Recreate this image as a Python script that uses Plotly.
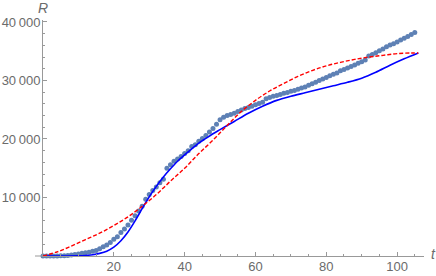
import plotly.graph_objects as go

# observed data (t, R)
obs_t = list(range(0, 106))
obs_R = [0, 0, 0, 10, 20, 40, 60, 100, 170, 250,
         350, 460, 550, 650, 800, 950, 1250, 1600, 1900, 2300,
         2850, 3300, 4000, 4600, 5300, 6100, 6900, 7700, 8500, 9700,
         10500, 11200, 11800, 12500, 13100, 15000, 15600, 16200, 16600, 17000,
         17500, 18000, 18700, 19000, 19600, 20100, 20600, 21200, 21800, 22500,
         23300, 23700, 24000, 24200, 24400, 24700, 24950, 25200, 25400, 25600,
         25850, 26050, 26300, 26900, 27100, 27300, 27450, 27600, 27800, 27950,
         28150, 28300, 28500, 28700, 28900, 29200, 29450, 29700, 30000, 30250,
         30500, 30800, 31050, 31300, 31650, 31900, 32150, 32400, 32650, 32950,
         33200, 33500, 34200, 34450, 34750, 35100, 35400, 35750, 36050, 36300,
         36600, 36900, 37200, 37500, 37850, 38200]

# model 1 (blue solid)
m1_t = [0, 5, 10, 12, 14, 16, 18, 20, 22, 24, 26, 28, 30, 32, 34, 36, 38, 40,
        42, 44, 46, 48, 50, 54, 58, 62, 66, 70, 74, 78, 82, 86, 90, 94, 98, 102, 106]
m1_R = [0, 0, 30, 90, 220, 450, 820, 1500, 2600, 4100, 6000, 8100, 10100, 11900,
        13500, 14900, 16200, 17300, 18300, 19300, 20100, 20900, 21600, 23000,
        24400, 25600, 26600, 27300, 27900, 28500, 29100, 29700, 30400, 31400,
        32600, 33700, 34700]

# model 2 (red dashed)
m2_t = [0, 4, 8, 12, 16, 20, 24, 28, 32, 36, 40, 44, 48, 52, 56, 60, 64, 68,
        72, 76, 80, 84, 88, 92, 96, 100, 104, 106]
m2_R = [0, 700, 1700, 2800, 3900, 5200, 6700, 8500, 10500, 12800, 15000, 17500,
        19800, 22300, 24700, 26600, 28200, 29500, 30700, 31700, 32500, 33100,
        33600, 34000, 34300, 34600, 34700, 34700]

x_ticks = [20, 40, 60, 80, 100]
x_labels = ["20", "40", "60", "80", "100"]
y_ticks = [10000, 20000, 30000, 40000]
y_labels = ["10\u2009000", "20\u2009000", "30\u2009000", "40\u2009000"]

axis_col = "#999999"
text_col = "#6b6b6b"
font = dict(family="Liberation Sans, Arial, sans-serif", size=13, color=text_col)

fig = go.Figure()
fig.add_trace(go.Scatter(x=obs_t, y=obs_R, mode="markers",
                         marker=dict(size=5, color="#5E81B5"),
                         cliponaxis=False, showlegend=False))
fig.add_trace(go.Scatter(x=m1_t, y=m1_R, mode="lines",
                         line=dict(color="#0000FF", width=1.6, shape="spline", smoothing=0.8),
                         cliponaxis=False, showlegend=False))
fig.add_trace(go.Scatter(x=m2_t, y=m2_R, mode="lines",
                         line=dict(color="#FF0000", width=1.4, dash="4px,2px", shape="spline"),
                         cliponaxis=False, showlegend=False))

fig.update_layout(
    width=436, height=276,
    margin=dict(l=43, r=12, t=20, b=20, autoexpand=False),
    plot_bgcolor="white", paper_bgcolor="white",
    font=font,
    xaxis=dict(range=[0, 107.6], showgrid=False, zeroline=False, automargin=False,
               showline=True, linecolor=axis_col, linewidth=1,
               ticks="inside", ticklen=4, tickcolor=axis_col,
               tickvals=x_ticks, ticktext=x_labels, ticklabelstandoff=-2,
               minor=dict(dtick=5, tick0=0, ticks="inside", ticklen=2, tickcolor=axis_col),
               tickfont=font),
    yaxis=dict(range=[0, 40340], showgrid=False, zeroline=False, automargin=False,
               showline=True, linecolor=axis_col, linewidth=1,
               ticks="inside", ticklen=4, tickcolor=axis_col,
               tickvals=y_ticks, ticktext=y_labels, ticklabelstandoff=-1,
               minor=dict(dtick=2000, tick0=0, ticks="inside", ticklen=2, tickcolor=axis_col),
               tickfont=font),
    shapes=[dict(type="line", xref="paper", yref="paper",
                 x0=-8 / 381, x1=0, y0=0, y1=0,
                 line=dict(color=axis_col, width=1))],
    annotations=[
        dict(text="<i>R</i>", xref="paper", yref="paper", x=0, y=1,
             xanchor="center", yanchor="middle", showarrow=False,
             font=dict(family="Liberation Sans, Arial, sans-serif", size=14, color=text_col),
             yshift=12),
        dict(text="<i>t</i>", xref="paper", yref="paper", x=1, y=0,
             xanchor="center", yanchor="middle", showarrow=False,
             font=dict(family="Liberation Sans, Arial, sans-serif", size=14, color=text_col),
             xshift=9, yshift=2),
    ],
)

fig.write_html("out.html", config={"displayModeBar": False},
               post_script="document.body.style.margin='0';document.body.style.padding='0';")
